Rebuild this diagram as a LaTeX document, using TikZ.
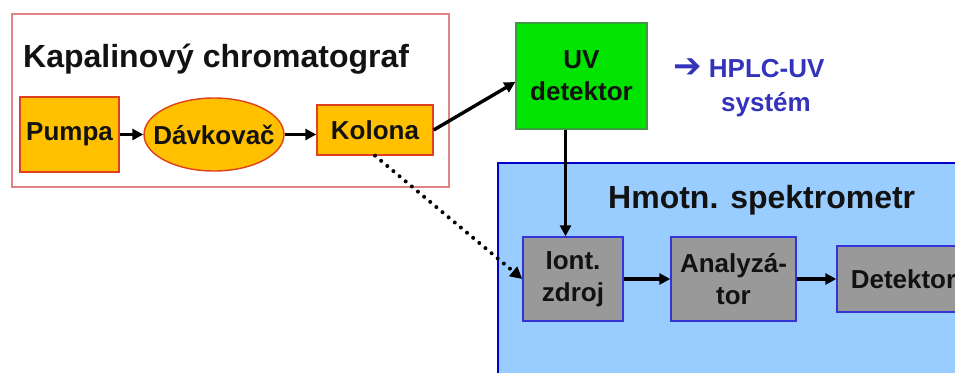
\documentclass[tikz,border=0pt]{standalone}
\usepackage{fontspec}
\setmainfont{Liberation Sans}
\newfontfamily\symfont{DejaVu Sans}
\usetikzlibrary{arrows.meta,shapes.geometric}

\definecolor{lcorange}{HTML}{FFC000}
\definecolor{lcedge}{HTML}{E0401C}
\definecolor{lcframe}{HTML}{E08484}
\definecolor{uvgreen}{HTML}{00E400}
\definecolor{uvedge}{HTML}{3C9A3C}
\definecolor{msfill}{HTML}{99CCFF}
\definecolor{msframe}{HTML}{0000CC}
\definecolor{msgray}{HTML}{999999}
\definecolor{msedge}{HTML}{3434D8}
\definecolor{hplcblue}{HTML}{3333BB}

\begin{document}
\begin{tikzpicture}[x=1pt, y=-1pt,
  every node/.style={font=\bfseries\fontsize{26}{32}\selectfont, inner sep=0pt, align=center, text=black!93},
  bigtitle/.style={font=\bfseries\fontsize{32}{38}\selectfont, anchor=base west},
  lcbox/.style={draw=lcedge, fill=lcorange, line width=1.4pt},
  msbox/.style={draw=msedge, fill=msgray, line width=1.4pt},
  flow/.style={line width=3.4pt, -{Triangle[length=11pt,width=11pt]}},
  tube/.style={line width=4pt, line cap=round, dash pattern=on 0pt off 8pt, -{Triangle[length=12pt,width=12pt]}}]
\clip (0,0) rectangle (955,372);
\fill[white] (0,0) rectangle (955,372);
\draw[lcframe, line width=1.8pt] (12,14) rectangle (449,187);
\node[bigtitle] (lctitle) at (23,67) {Kapalinový chromatograf};
\node[lcbox, minimum width=99pt, minimum height=75pt] (pumpa) at (69.5,134.5) {Pumpa};
\node[lcbox, ellipse, minimum width=140pt, minimum height=73pt] (davkovac) at (214,134.5) {};
\node (davkovactext) at (davkovac) {Dávkovač};
\node[lcbox, minimum width=116pt, minimum height=50pt] (kolona) at (375,130) {Kolona};
\node[draw=uvedge, fill=uvgreen, line width=1.2pt, minimum width=131pt, minimum height=106pt] (uv) at (581.5,76) {UV\\detektor};
\node[anchor=base west, text=hplcblue] (hplc) at (673,77) {{\symfont\fontsize{34}{34}\selectfont ➔} HPLC-UV};
\node[anchor=base, text=hplcblue] (system) at (766,111) {systém};
\fill[msfill] (498,163) rectangle (975,385);
\draw[msframe, line width=1.8pt] (975,163) -- (498,163) -- (498,385);
\node[bigtitle] (mstitle) at (608,208) {Hmotn. spektrometr};
\node[msbox, minimum width=100pt, minimum height=84pt] (iont) at (573,279) {Iont.\\zdroj};
\node[msbox, minimum width=125pt, minimum height=84pt] (analyzator) at (733.5,279) {Analyzá-\\tor};
\node[msbox, minimum width=133pt, minimum height=66pt] (detektor) at (903.5,279) {Detektor};
\draw[flow] (pumpa.east) -- (pumpa.east -| davkovac.west);
\draw[flow] (davkovac.east) -- (davkovac.east -| kolona.west);
\draw[flow] (kolona.east) -- ([yshift=-6pt]uv.west);
\draw[flow] ([xshift=-16pt]uv.south) -- ([xshift=-16pt]uv.south |- iont.north);
\draw[tube] (kolona.south) -- (iont.west);
\draw[flow] (iont) -- (analyzator);
\draw[flow] (analyzator) -- (detektor);
\end{tikzpicture}
\end{document}
